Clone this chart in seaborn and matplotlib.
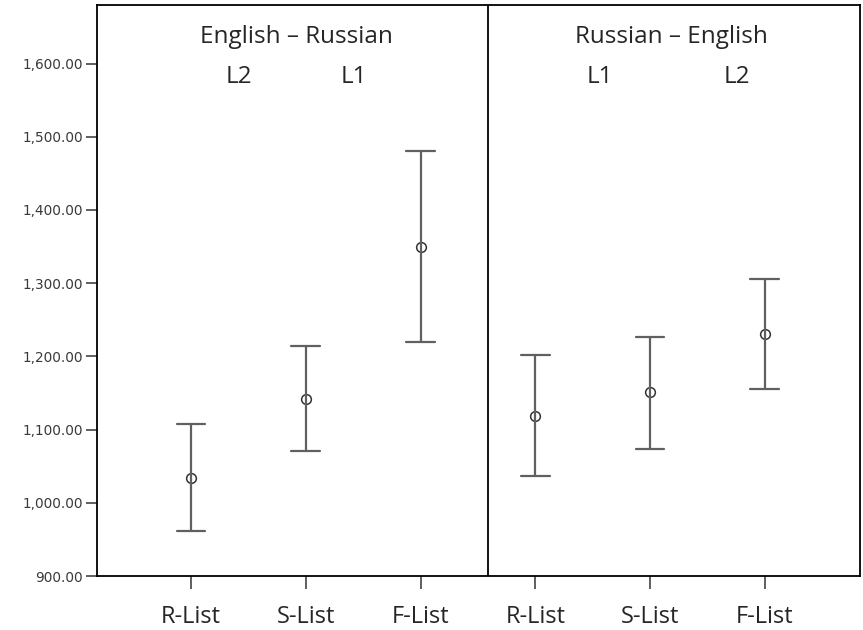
import numpy as np
import pandas as pd
import seaborn as sns
import matplotlib.pyplot as plt
from matplotlib.ticker import FuncFormatter

# condition keys (unique per panel) and their shown labels
conditions = ['ER R-List', 'ER S-List', 'ER F-List', 'RE R-List', 'RE S-List', 'RE F-List']
tick_labels = ['R-List', 'S-List', 'F-List', 'R-List', 'S-List', 'F-List']

# mean RT and 95% CI bounds
means = [1034, 1142, 1350, 1119, 1151, 1231]
lower = [961, 1071, 1219, 1036, 1074, 1155]
upper = [1108, 1214, 1481, 1202, 1227, 1306]

# long table: lower bound, mean, upper bound per condition
rows = []
for c, lo, m, hi in zip(conditions, lower, means, upper):
    for v in (lo, m, hi):
        rows.append({'condition': c, 'rt': v})
df = pd.DataFrame(rows)

sns.set_style('white')
plt.rcParams['font.family'] = ['Open Sans', 'DejaVu Sans']

fig = plt.figure(figsize=(8.63, 6.3), dpi=100)
ax = fig.add_axes([97 / 863, 1 - 576 / 630, (860 - 97) / 863, (576 - 5) / 630])

sns.pointplot(data=df, x='condition', y='rt', order=conditions,
              estimator='median', errorbar=lambda v: (v.min(), v.max()),
              linestyle='none', marker='o', markersize=7,
              markerfacecolor='none', markeredgecolor='#333333',
              markeredgewidth=1.1, color='#333333', capsize=0.25,
              err_kws={'color': '#606060', 'linewidth': 1.6}, ax=ax)

ax.set_xlim(-0.82, 5.83)
ax.set_ylim(900, 1680)
ax.axvline(2.585, color='black', linewidth=1.3)

ax.set_yticks(np.arange(900, 1601, 100))
ax.yaxis.set_major_formatter(FuncFormatter(lambda v, p: f'{v:,.2f}'))
for lab in ax.get_yticklabels():
    lab.set_family('DejaVu Sans')
    lab.set_fontsize(9.8)
    lab.set_color('#3a3a3a')
ax.set_xticks(range(len(conditions)))
ax.set_xticklabels(tick_labels, fontsize=17)
ax.tick_params(axis='y', direction='out', length=8, width=1.2, color='#444444', left=True, pad=2)
ax.tick_params(axis='x', direction='out', length=9, width=1.2, color='#444444', bottom=True, pad=12)
ax.set_xlabel('')
ax.set_ylabel('')

for s in ax.spines.values():
    s.set_color('black')
    s.set_linewidth(1.3)

ax.text(0.92, 1636, 'English \u2013 Russian', ha='center', va='center', fontsize=17.5)
ax.text(0.42, 1582, 'L2', ha='center', va='center', fontsize=17.5)
ax.text(1.42, 1582, 'L1', ha='center', va='center', fontsize=17.5)
ax.text(4.19, 1636, 'Russian \u2013 English', ha='center', va='center', fontsize=17.5)
ax.text(3.56, 1582, 'L1', ha='center', va='center', fontsize=17.5)
ax.text(4.76, 1582, 'L2', ha='center', va='center', fontsize=17.5)

fig.savefig('out.png', dpi=100)
